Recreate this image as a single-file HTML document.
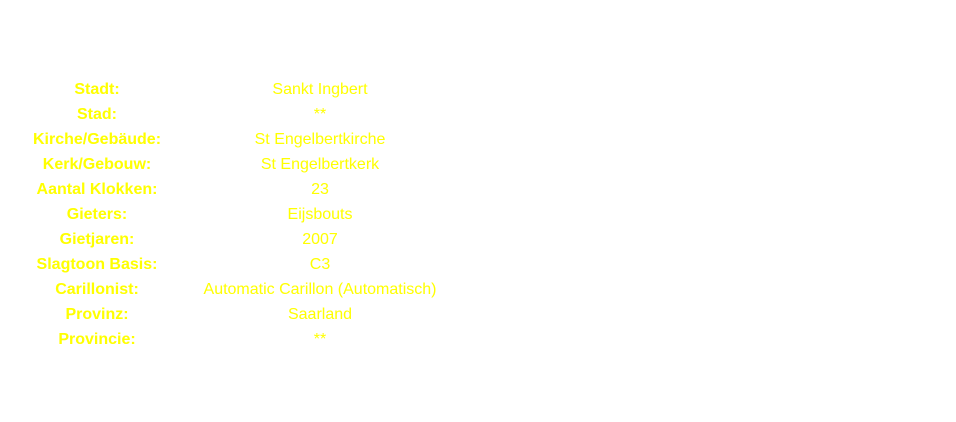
<!DOCTYPE html>
<html><head><style>
body{margin:0;width:956px;height:422px;background:#fff;position:relative;font-family:"Liberation Sans",sans-serif;font-size:16px;color:#ffff00;overflow:hidden}
.l,.v{position:absolute;width:300px;text-align:center;line-height:18px}
.l{left:-53px;font-weight:bold;font-size:16px}
.v{left:170px}
</style></head><body>
<div class="l" style="top:81px">Stadt:</div><div class="v" style="top:81px">Sankt Ingbert</div>
<div class="l" style="top:106px">Stad:</div><div class="v" style="top:106px">**</div>
<div class="l" style="top:131px">Kirche/Gebäude:</div><div class="v" style="top:131px">St Engelbertkirche</div>
<div class="l" style="top:156px">Kerk/Gebouw:</div><div class="v" style="top:156px">St Engelbertkerk</div>
<div class="l" style="top:181px">Aantal Klokken:</div><div class="v" style="top:181px">23</div>
<div class="l" style="top:206px">Gieters:</div><div class="v" style="top:206px">Eijsbouts</div>
<div class="l" style="top:231px">Gietjaren:</div><div class="v" style="top:231px">2007</div>
<div class="l" style="top:256px">Slagtoon Basis:</div><div class="v" style="top:256px">C3</div>
<div class="l" style="top:281px">Carillonist:</div><div class="v" style="top:281px">Automatic Carillon (Automatisch)</div>
<div class="l" style="top:306px">Provinz:</div><div class="v" style="top:306px">Saarland</div>
<div class="l" style="top:331px">Provincie:</div><div class="v" style="top:331px">**</div>
</body></html>
